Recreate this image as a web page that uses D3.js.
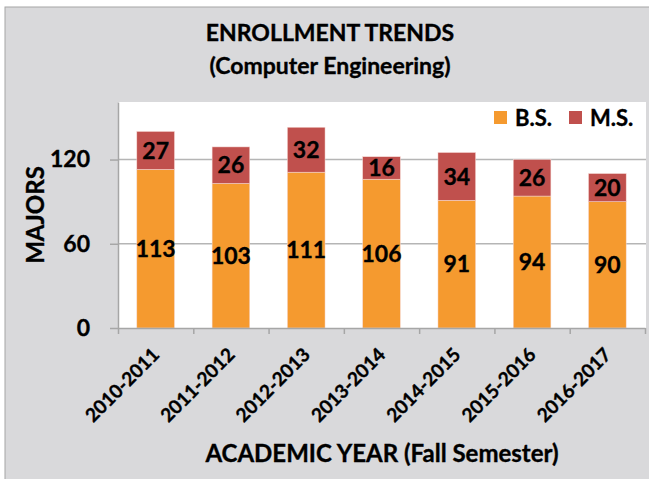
<!DOCTYPE html>
<html>
<head>
<meta charset="utf-8">
<script src="https://cdn.jsdelivr.net/npm/d3@7"></script>
<style>
  body { margin: 0; background: #fff; }
  text { font-family: Lato, "Open Sans", sans-serif; font-weight: bold; fill: #000; stroke: #000; stroke-width: 0.35px; }
</style>
</head>
<body>
<svg id="chart" width="649" height="479"></svg>
<script>
var years = ["2010-2011", "2011-2012", "2012-2013", "2013-2014", "2014-2015", "2015-2016", "2016-2017"];
var bsValues = [113, 103, 111, 106, 91, 94, 90];
var msValues = [27, 26, 32, 16, 34, 26, 20];
var yTicks = [0, 60, 120];
var seriesNames = ["B.S.", "M.S."];

var width = 649,
    height = 479;

var colors = { "B.S.": "#F59A2F", "M.S.": "#C0504D" };

var svg = d3.select("#chart");

// chart frame
svg.append("rect")
  .attr("x", 5).attr("y", 7)
  .attr("width", width).attr("height", height)
  .style("fill", "#D9D9DB")
  .style("stroke", "#A6A6A6")
  .style("stroke-width", 1);

var plot = { left: 118, right: 646, top: 102, bottom: 328 };

svg.append("rect")
  .attr("x", plot.left).attr("y", plot.top)
  .attr("width", plot.right - plot.left).attr("height", plot.bottom - plot.top)
  .style("fill", "#fff");

var x = d3.scaleBand()
  .domain(years)
  .range([plot.left, plot.right - 1])
  .paddingInner(0.5)
  .paddingOuter(0.25);

var y = d3.scaleLinear()
  .domain([0, 161])
  .range([plot.bottom, plot.top]);

// gridlines
svg.append("g")
  .selectAll("line")
  .data(yTicks.slice(1))
  .enter().append("line")
    .attr("x1", plot.left).attr("x2", plot.right)
    .attr("y1", function(d) { return y(d); })
    .attr("y2", function(d) { return y(d); })
    .style("stroke", "#B5B5B5")
    .style("stroke-width", 1.5);

// stacked data
var rows = years.map(function(yr, i) {
  return { year: yr, "B.S.": bsValues[i], "M.S.": msValues[i] };
});
var stacked = d3.stack().keys(seriesNames)(rows);

var layers = svg.selectAll("g.layer")
  .data(stacked)
  .enter().append("g")
    .attr("class", "layer")
    .style("fill", function(d) { return colors[d.key]; });

layers.selectAll("rect")
  .data(function(d) { return d; })
  .enter().append("rect")
    .attr("x", function(d) { return x(d.data.year); })
    .attr("y", function(d) { return y(d[1]); })
    .attr("width", x.bandwidth())
    .attr("height", function(d) { return y(d[0]) - y(d[1]); })
    .style("stroke", "#F6D8D4")
    .style("stroke-width", 0.5);

layers.selectAll("text")
  .data(function(d) { return d; })
  .enter().append("text")
    .attr("x", function(d) { return x(d.data.year) + x.bandwidth() / 2; })
    .attr("y", function(d) { return (y(d[0]) + y(d[1])) / 2; })
    .attr("dy", "0.36em")
    .attr("text-anchor", "middle")
    .style("font-size", "23px")
    .style("fill", "#000")
    .text(function(d) { return d[1] - d[0]; });

// y axis
var yAxis = svg.append("g")
  .attr("transform", "translate(" + plot.left + ",0)")
  .call(d3.axisLeft(y).tickValues(yTicks).tickSize(8).tickSizeOuter(0).tickPadding(20));
yAxis.select(".domain").style("stroke", "#A6A6A6").style("stroke-width", 1.5);
yAxis.selectAll(".tick line").style("stroke", "#A6A6A6").style("stroke-width", 1.5);
yAxis.selectAll(".tick text")
  .style("font-size", "23px")
  .style("font-family", "Lato, sans-serif")
  .attr("fill", "#000");

// x axis line and category boundary ticks
var xEdges = d3.scaleLinear().domain([0, years.length]).range([plot.left, plot.right - 1]);
var xAxis = svg.append("g")
  .attr("transform", "translate(0," + plot.bottom + ")")
  .call(d3.axisBottom(xEdges).ticks(years.length).tickSize(6).tickSizeOuter(0).tickFormat(""));
xAxis.select(".domain").style("stroke", "#A6A6A6").style("stroke-width", 1.5);
xAxis.selectAll(".tick line").style("stroke", "#A6A6A6").style("stroke-width", 1.5);

// category labels
var xLabels = svg.append("g")
  .attr("transform", "translate(0," + plot.bottom + ")")
  .call(d3.axisBottom(x).tickSize(0).tickPadding(0));
xLabels.select(".domain").remove();
xLabels.selectAll(".tick text")
  .style("font-size", "19px")
  .style("font-family", "Lato, sans-serif")
  .attr("fill", "#000")
  .attr("text-anchor", "end")
  .attr("dy", "0")
  .attr("y", 0)
  .attr("transform", "translate(5,28) rotate(-45)");

// titles
svg.append("text")
  .attr("x", 330).attr("y", 41)
  .attr("text-anchor", "middle")
  .style("font-size", "23px")
  .text("ENROLLMENT TRENDS");

svg.append("text")
  .attr("x", 330).attr("y", 74)
  .attr("text-anchor", "middle")
  .style("font-size", "23px")
  .text("(Computer Engineering)");

svg.append("text")
  .attr("transform", "translate(44," + (plot.top + plot.bottom) / 2 + ") rotate(-90)")
  .attr("text-anchor", "middle")
  .style("font-size", "24px")
  .text("MAJORS");

svg.append("text")
  .attr("x", (plot.left + plot.right) / 2).attr("y", 462)
  .attr("text-anchor", "middle")
  .style("font-size", "24px")
  .text("ACADEMIC YEAR (Fall Semester)");

// legend
var legendX = [494, 569];
var legend = svg.selectAll("g.legendEntry")
  .data(seriesNames)
  .enter().append("g")
    .attr("class", "legendEntry")
    .attr("transform", function(d, i) { return "translate(" + legendX[i] + ",111)"; });

legend.append("rect")
  .attr("width", 13).attr("height", 13)
  .style("fill", function(d) { return colors[d]; });

legend.append("text")
  .attr("x", 21).attr("y", 7)
  .attr("dy", "0.36em")
  .style("font-size", "22px")
  .text(function(d) { return d; });
</script>
</body>
</html>
